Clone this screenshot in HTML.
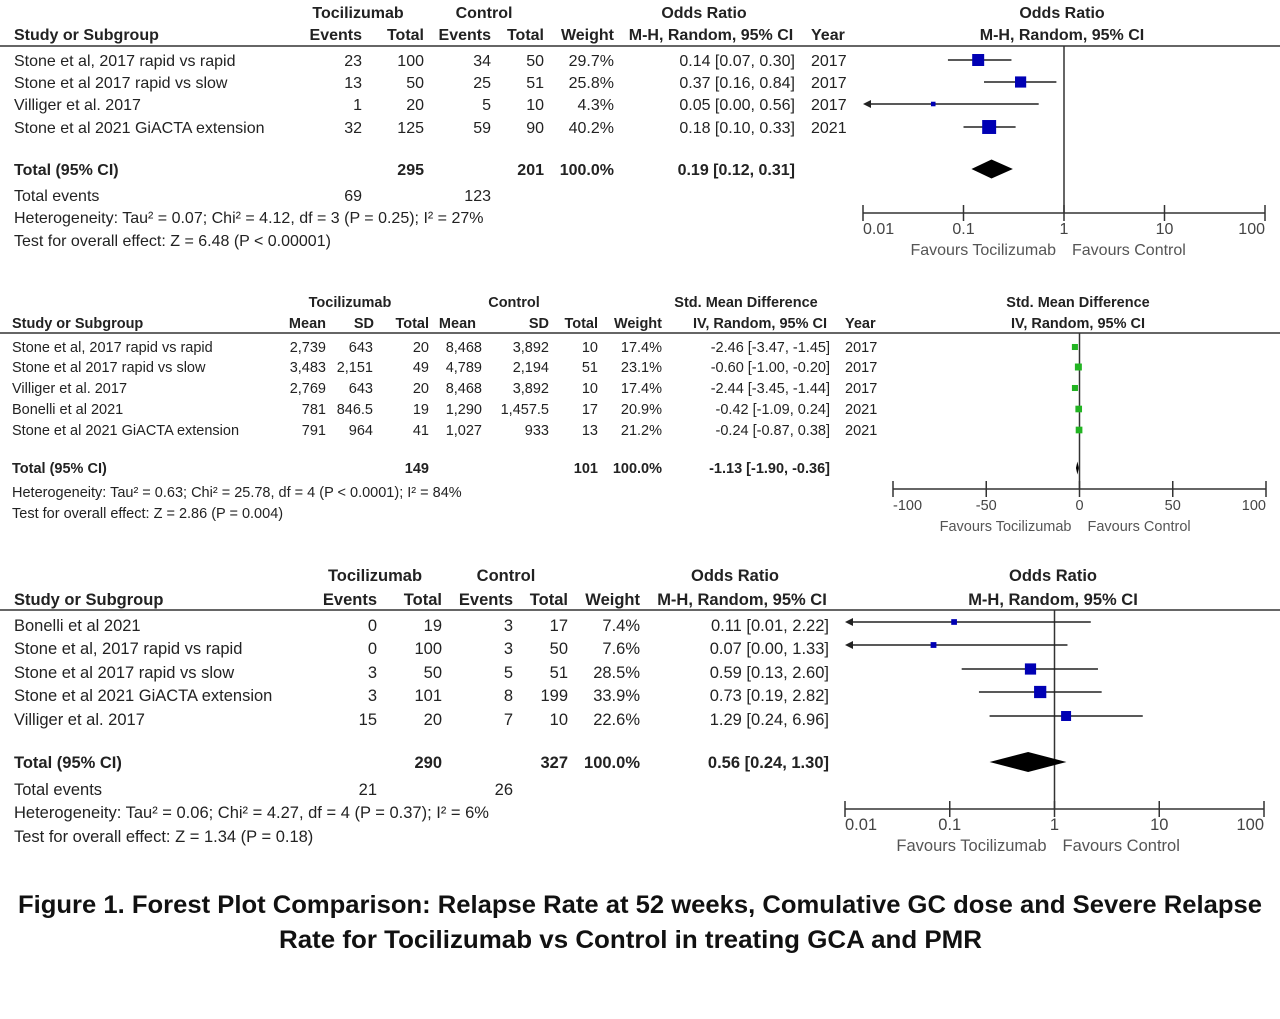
<!DOCTYPE html>
<html><head><meta charset="utf-8"><style>
html,body{margin:0;padding:0;background:#fff;}
svg{display:block;font-family:"Liberation Sans",sans-serif;}
</style></head><body>
<svg id="fig" width="1280" height="1019" viewBox="0 0 1280 1019" xmlns="http://www.w3.org/2000/svg"></svg>
<script>
// ---------- Panel 1: relapse rate at 52 weeks ----------
const p1Studies = ["Stone et al, 2017 rapid vs rapid","Stone et al 2017 rapid vs slow","Villiger et al. 2017","Stone et al 2021 GiACTA extension"];
const p1TocEvents = [23,13,1,32];
const p1TocTotal = [100,50,20,125];
const p1CtlEvents = [34,25,5,59];
const p1CtlTotal = [50,51,10,90];
const p1Weight = [29.7,25.8,4.3,40.2];
const p1Or = [0.14,0.37,0.05,0.18];
const p1Lo = [0.07,0.16,0.00,0.10];
const p1Hi = [0.30,0.84,0.56,0.33];
const p1Year = [2017,2017,2017,2021];
const p1Total = [0.19,0.12,0.31];
const p1Ticks = [0.01,0.1,1,10,100];
const p1TickLabels = ["0.01","0.1","1","10","100"];
// ---------- Panel 2: cumulative GC dose ----------
const p2Studies = ["Stone et al, 2017 rapid vs rapid","Stone et al 2017 rapid vs slow","Villiger et al. 2017","Bonelli et al 2021","Stone et al 2021 GiACTA extension"];
const p2TocMean = ["2,739","3,483","2,769","781","791"];
const p2TocSD = ["643","2,151","643","846.5","964"];
const p2TocN = [20,49,20,19,41];
const p2CtlMean = ["8,468","4,789","8,468","1,290","1,027"];
const p2CtlSD = ["3,892","2,194","3,892","1,457.5","933"];
const p2CtlN = [10,51,10,17,13];
const p2Weight = [17.4,23.1,17.4,20.9,21.2];
const p2Smd = [-2.46,-0.60,-2.44,-0.42,-0.24];
const p2Lo = [-3.47,-1.00,-3.45,-1.09,-0.87];
const p2Hi = [-1.45,-0.20,-1.44,0.24,0.38];
const p2Year = [2017,2017,2017,2021,2021];
const p2Total = [-1.13,-1.90,-0.36];
const p2Ticks = [-100,-50,0,50,100];
const p2TickLabels = ["-100","-50","0","50","100"];
// ---------- Panel 3: severe relapse rate ----------
const p3Studies = ["Bonelli et al 2021","Stone et al, 2017 rapid vs rapid","Stone et al 2017 rapid vs slow","Stone et al 2021 GiACTA extension","Villiger et al. 2017"];
const p3TocEvents = [0,0,3,3,15];
const p3TocTotal = [19,100,50,101,20];
const p3CtlEvents = [3,3,5,8,7];
const p3CtlTotal = [17,50,51,199,10];
const p3Weight = [7.4,7.6,28.5,33.9,22.6];
const p3Or = [0.11,0.07,0.59,0.73,1.29];
const p3Lo = [0.01,0.00,0.13,0.19,0.24];
const p3Hi = [2.22,1.33,2.60,2.82,6.96];
const p3Total = [0.56,0.24,1.30];
const p3Ticks = [0.01,0.1,1,10,100];
const p3TickLabels = ["0.01","0.1","1","10","100"];

const NS="http://www.w3.org/2000/svg";
const svg=document.getElementById('fig');
function mk(tag,attrs,name){
  const el=document.createElementNS(NS,tag);
  for(const k in attrs) el.setAttribute(k,attrs[k]);
  
  
  svg.appendChild(el);
  return el;
}
function txt(x,y,s,anchor,bold,size,name,fill){
  const el=mk('text',{x:x,y:y,'text-anchor':anchor||'start','font-size':size||16,'font-weight':bold?'bold':'normal',fill:fill||'#222'},name);
  el.textContent=s;
  return el;
}
function f2(v){return v.toFixed(2);}
function ci(a,b,c){return f2(a)+" ["+f2(b)+", "+f2(c)+"]";}
function logScale(x0,x1){return v=>{const c=Math.max(v,1e-9);return x0+(Math.log10(c)+2)/4*(x1-x0);};}
function linScale(x0,x1){return v=>x0+(v+100)/200*(x1-x0);}

function forest(o){
  const sx=o.scale;
  const minV=o.domainMin;
  mk('line',{x1:sx(o.nullV),x2:sx(o.nullV),y1:o.lineTop,y2:o.axisY,stroke:'#333','stroke-width':1.5},o.id+'-null-line');
  mk('line',{x1:sx(o.ticks[0]),x2:sx(o.ticks[o.ticks.length-1]),y1:o.axisY,y2:o.axisY,stroke:'#333','stroke-width':1.5},o.id+'-x-axis');
  const n=o.ticks.length;
  o.ticks.forEach((t,i)=>{
    mk('line',{x1:sx(t),x2:sx(t),y1:o.axisY-8,y2:o.axisY+8,stroke:'#333','stroke-width':1.5},o.id+'-tick');
    const anc = i===0?'start':(i===n-1?'end':'middle');
    txt(sx(t),o.axisY+21,o.tickLabels[i],anc,false,o.fs,o.id+'-tick-label','#444');
  });
  txt(sx(o.nullV)-8,o.axisY+42,"Favours Tocilizumab",'end',false,o.fs,o.id+'-favours-left','#555');
  txt(sx(o.nullV)+8,o.axisY+42,"Favours Control",'start',false,o.fs,o.id+'-favours-right','#555');
  o.est.forEach((e,i)=>{
    const y=o.rowY[i];
    const lo=o.lo[i], hi=o.hi[i];
    const clipped = lo<=minV;
    const xl = clipped? sx(minV)+2 : sx(lo);
    mk('line',{x1:xl,x2:sx(hi),y1:y,y2:y,stroke:'#222','stroke-width':1.5},o.id+'-ci-line');
    if(clipped){
      mk('polygon',{points:(sx(minV))+','+y+' '+(sx(minV)+8)+','+(y-4)+' '+(sx(minV)+8)+','+(y+4),fill:'#222'},o.id+'-ci-arrow');
    }
    const s=o.k*Math.sqrt(o.w[i]);
    mk('rect',{x:sx(e)-s/2,y:y-s/2,width:s,height:s,fill:o.color},o.id+'-study-marker');
  });
  const t=o.total, dy=o.diamondH/2, y=o.diamondY;
  mk('polygon',{points:sx(t[1])+','+y+' '+sx(t[0])+','+(y-dy)+' '+sx(t[2])+','+y+' '+sx(t[0])+','+(y+dy),fill:'#000'},o.id+'-pooled-diamond');
}

// ===== Panel 1 text =====
(function(){
  const fs=16, rows=[60,82,104,127];
  txt(358,18,"Tocilizumab",'middle',true,fs,'p1-header-tocilizumab');
  txt(484,18,"Control",'middle',true,fs,'p1-header-control');
  txt(704,18,"Odds Ratio",'middle',true,fs,'p1-header-odds-ratio');
  txt(1062,18,"Odds Ratio",'middle',true,fs,'p1-plot-title');
  txt(14,40,"Study or Subgroup",'start',true,fs,'p1-header-study');
  txt(362,40,"Events",'end',true,fs,'p1-header-events');
  txt(424,40,"Total",'end',true,fs,'p1-header-total');
  txt(491,40,"Events",'end',true,fs,'p1-header-events-ctl');
  txt(544,40,"Total",'end',true,fs,'p1-header-total-ctl');
  txt(614,40,"Weight",'end',true,fs,'p1-header-weight');
  txt(711,40,"M-H, Random, 95% CI",'middle',true,fs,'p1-header-ci');
  txt(811,40,"Year",'start',true,fs,'p1-header-year');
  txt(1062,40,"M-H, Random, 95% CI",'middle',true,fs,'p1-plot-subtitle');
  mk('line',{x1:0,x2:1280,y1:46,y2:46,stroke:'#333','stroke-width':1.5},'p1-header-rule');
  p1Studies.forEach((s,i)=>{
    const y=rows[i]+6;
    txt(14,y,s,'start',false,fs,'p1-study-name');
    txt(362,y,String(p1TocEvents[i]),'end',false,fs,'p1-toc-events');
    txt(424,y,String(p1TocTotal[i]),'end',false,fs,'p1-toc-total');
    txt(491,y,String(p1CtlEvents[i]),'end',false,fs,'p1-ctl-events');
    txt(544,y,String(p1CtlTotal[i]),'end',false,fs,'p1-ctl-total');
    txt(614,y,p1Weight[i].toFixed(1)+"%",'end',false,fs,'p1-weight');
    txt(795,y,ci(p1Or[i],p1Lo[i],p1Hi[i]),'end',false,fs,'p1-ci-text');
    txt(811,y,String(p1Year[i]),'start',false,fs,'p1-year');
  });
  txt(14,175,"Total (95% CI)",'start',true,fs,'p1-total-label');
  txt(424,175,"295",'end',true,fs,'p1-total-toc');
  txt(544,175,"201",'end',true,fs,'p1-total-ctl');
  txt(614,175,"100.0%",'end',true,fs,'p1-total-weight');
  txt(795,175,ci(p1Total[0],p1Total[1],p1Total[2]),'end',true,fs,'p1-total-ci');
  txt(14,201,"Total events",'start',false,fs,'p1-total-events-label');
  txt(362,201,"69",'end',false,fs,'p1-total-events-toc');
  txt(491,201,"123",'end',false,fs,'p1-total-events-ctl');
  txt(14,223,"Heterogeneity: Tau² = 0.07; Chi² = 4.12, df = 3 (P = 0.25); I² = 27%",'start',false,fs,'p1-heterogeneity');
  txt(14,246,"Test for overall effect: Z = 6.48 (P < 0.00001)",'start',false,fs,'p1-overall-effect');
  forest({id:'p1',scale:logScale(863,1265),domainMin:0.01,nullV:1,lineTop:46,axisY:213,ticks:p1Ticks,tickLabels:p1TickLabels,fs:16,
    est:p1Or,lo:p1Lo,hi:p1Hi,w:p1Weight,rowY:rows,k:2.2,color:'#0000b4',total:p1Total,diamondY:169,diamondH:19});
})();

// ===== Panel 2 text =====
(function(){
  const fs=14.5, rows=[347,367,388,409,430];
  txt(350,307,"Tocilizumab",'middle',true,fs,'p2-header-tocilizumab');
  txt(514,307,"Control",'middle',true,fs,'p2-header-control');
  txt(746,307,"Std. Mean Difference",'middle',true,fs,'p2-header-smd');
  txt(1078,307,"Std. Mean Difference",'middle',true,fs,'p2-plot-title');
  txt(12,328,"Study or Subgroup",'start',true,fs,'p2-header-study');
  txt(326,328,"Mean",'end',true,fs,'p2-header-mean');
  txt(374,328,"SD",'end',true,fs,'p2-header-sd');
  txt(429,328,"Total",'end',true,fs,'p2-header-total');
  txt(476,328,"Mean",'end',true,fs,'p2-header-mean-ctl');
  txt(549,328,"SD",'end',true,fs,'p2-header-sd-ctl');
  txt(598,328,"Total",'end',true,fs,'p2-header-total-ctl');
  txt(662,328,"Weight",'end',true,fs,'p2-header-weight');
  txt(760,328,"IV, Random, 95% CI",'middle',true,fs,'p2-header-ci');
  txt(845,328,"Year",'start',true,fs,'p2-header-year');
  txt(1078,328,"IV, Random, 95% CI",'middle',true,fs,'p2-plot-subtitle');
  mk('line',{x1:0,x2:1280,y1:333,y2:333,stroke:'#333','stroke-width':1.5},'p2-header-rule');
  p2Studies.forEach((s,i)=>{
    const y=rows[i]+5;
    txt(12,y,s,'start',false,fs,'p2-study-name');
    txt(326,y,p2TocMean[i],'end',false,fs,'p2-toc-mean');
    txt(373,y,p2TocSD[i],'end',false,fs,'p2-toc-sd');
    txt(429,y,String(p2TocN[i]),'end',false,fs,'p2-toc-total');
    txt(482,y,p2CtlMean[i],'end',false,fs,'p2-ctl-mean');
    txt(549,y,p2CtlSD[i],'end',false,fs,'p2-ctl-sd');
    txt(598,y,String(p2CtlN[i]),'end',false,fs,'p2-ctl-total');
    txt(662,y,p2Weight[i].toFixed(1)+"%",'end',false,fs,'p2-weight');
    txt(830,y,ci(p2Smd[i],p2Lo[i],p2Hi[i]),'end',false,fs,'p2-ci-text');
    txt(845,y,String(p2Year[i]),'start',false,fs,'p2-year');
  });
  txt(12,473,"Total (95% CI)",'start',true,fs,'p2-total-label');
  txt(429,473,"149",'end',true,fs,'p2-total-toc');
  txt(598,473,"101",'end',true,fs,'p2-total-ctl');
  txt(662,473,"100.0%",'end',true,fs,'p2-total-weight');
  txt(830,473,ci(p2Total[0],p2Total[1],p2Total[2]),'end',true,fs,'p2-total-ci');
  txt(12,497,"Heterogeneity: Tau² = 0.63; Chi² = 25.78, df = 4 (P < 0.0001); I² = 84%",'start',false,fs,'p2-heterogeneity');
  txt(12,518,"Test for overall effect: Z = 2.86 (P = 0.004)",'start',false,fs,'p2-overall-effect');
  forest({id:'p2',scale:linScale(893,1266),domainMin:-1000,nullV:0,lineTop:333,axisY:489,ticks:p2Ticks,tickLabels:p2TickLabels,fs:14.5,
    est:p2Smd,lo:p2Lo,hi:p2Hi,w:p2Weight,rowY:rows,k:1.45,color:'#22b422',total:p2Total,diamondY:468,diamondH:13});
})();

// ===== Panel 3 text =====
(function(){
  const fs=16.5, rows=[622,645,669,692,716];
  txt(375,581,"Tocilizumab",'middle',true,fs,'p3-header-tocilizumab');
  txt(506,581,"Control",'middle',true,fs,'p3-header-control');
  txt(735,581,"Odds Ratio",'middle',true,fs,'p3-header-odds-ratio');
  txt(1053,581,"Odds Ratio",'middle',true,fs,'p3-plot-title');
  txt(14,605,"Study or Subgroup",'start',true,fs,'p3-header-study');
  txt(377,605,"Events",'end',true,fs,'p3-header-events');
  txt(442,605,"Total",'end',true,fs,'p3-header-total');
  txt(513,605,"Events",'end',true,fs,'p3-header-events-ctl');
  txt(568,605,"Total",'end',true,fs,'p3-header-total-ctl');
  txt(640,605,"Weight",'end',true,fs,'p3-header-weight');
  txt(742,605,"M-H, Random, 95% CI",'middle',true,fs,'p3-header-ci');
  txt(1053,605,"M-H, Random, 95% CI",'middle',true,fs,'p3-plot-subtitle');
  mk('line',{x1:0,x2:1280,y1:610,y2:610,stroke:'#333','stroke-width':1.5},'p3-header-rule');
  p3Studies.forEach((s,i)=>{
    const y=rows[i]+9;
    txt(14,y,s,'start',false,fs,'p3-study-name');
    txt(377,y,String(p3TocEvents[i]),'end',false,fs,'p3-toc-events');
    txt(442,y,String(p3TocTotal[i]),'end',false,fs,'p3-toc-total');
    txt(513,y,String(p3CtlEvents[i]),'end',false,fs,'p3-ctl-events');
    txt(568,y,String(p3CtlTotal[i]),'end',false,fs,'p3-ctl-total');
    txt(640,y,p3Weight[i].toFixed(1)+"%",'end',false,fs,'p3-weight');
    txt(829,y,ci(p3Or[i],p3Lo[i],p3Hi[i]),'end',false,fs,'p3-ci-text');
  });
  txt(14,768,"Total (95% CI)",'start',true,fs,'p3-total-label');
  txt(442,768,"290",'end',true,fs,'p3-total-toc');
  txt(568,768,"327",'end',true,fs,'p3-total-ctl');
  txt(640,768,"100.0%",'end',true,fs,'p3-total-weight');
  txt(829,768,ci(p3Total[0],p3Total[1],p3Total[2]),'end',true,fs,'p3-total-ci');
  txt(14,795,"Total events",'start',false,fs,'p3-total-events-label');
  txt(377,795,"21",'end',false,fs,'p3-total-events-toc');
  txt(513,795,"26",'end',false,fs,'p3-total-events-ctl');
  txt(14,818,"Heterogeneity: Tau² = 0.06; Chi² = 4.27, df = 4 (P = 0.37); I² = 6%",'start',false,fs,'p3-heterogeneity');
  txt(14,842,"Test for overall effect: Z = 1.34 (P = 0.18)",'start',false,fs,'p3-overall-effect');
  forest({id:'p3',scale:logScale(845,1264),domainMin:0.01,nullV:1,lineTop:610,axisY:809,ticks:p3Ticks,tickLabels:p3TickLabels,fs:16.5,
    est:p3Or,lo:p3Lo,hi:p3Hi,w:p3Weight,rowY:rows,k:2.1,color:'#0000b4',total:p3Total,diamondY:762,diamondH:20});
})();

// caption
const cap1=txt(18,913,"Figure 1. Forest Plot Comparison: Relapse Rate at 52 weeks, Comulative GC dose and Severe Relapse",'start',true,25,'figure-caption-line-1','#111');
cap1.setAttribute('textLength','1244');
cap1.setAttribute('lengthAdjust','spacingAndGlyphs');
const cap2=txt(279,948,"Rate for Tocilizumab vs Control in treating GCA and PMR",'start',true,25,'figure-caption-line-2','#111');
cap2.setAttribute('textLength','703');
cap2.setAttribute('lengthAdjust','spacingAndGlyphs');
</script>
</body></html>
